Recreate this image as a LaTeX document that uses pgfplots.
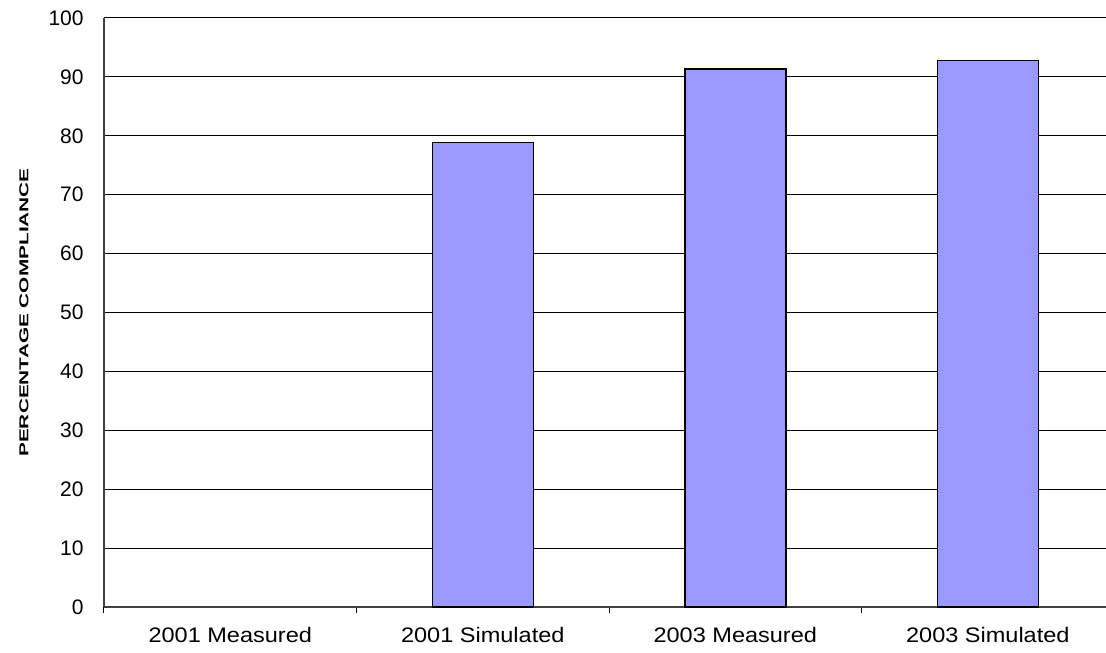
\documentclass[border=0pt]{standalone}
\usepackage{graphicx}
\usepackage{fontspec}
\setmainfont{Liberation Sans}
\usepackage{pgfplots}
\pgfplotsset{compat=1.18}
\definecolor{barblue}{HTML}{9999FF}
\begin{document}
\fontsize{10.5pt}{12.6pt}\selectfont
\begin{tikzpicture}
\begin{axis}[
  at={(0,0)}, anchor=south west,
  scale only axis,
  width=501pt, height=294.5pt,
  xmin=-0.5, xmax=3.468,
  ymin=0, ymax=100,
  ytick={0,10,...,100},
  xtick={0,1,2,3},
  xticklabels={2001 Measured,2001 Simulated,2003 Measured,2003 Simulated},
  minor xtick={-0.5,0.5,1.5,2.5},
  tick align=outside,
  major tick length=0pt,
  minor tick length=3pt,
  minor tick style={black, line width=0.5pt},
  axis x line*=bottom,
  axis y line*=left,
  axis line style={black!75, line width=0.8pt, -},
  ymajorgrids,
  major grid style={black, line width=0.5pt},
  /pgf/number format/assume math mode=true,
  yticklabel style={xshift=-6.5pt},
  xticklabel style={yshift=-6.5pt, xscale=1.12},
  ticklabel style={font=\fontsize{10.5pt}{12.6pt}\selectfont},
  ylabel={\scalebox{1}[0.62]{\bfseries\fontsize{10.4pt}{12pt}\selectfont PERCENTAGE COMPLIANCE}},
  ylabel style={at={(axis description cs:0,0.5)}, anchor=center, yshift=40pt},
  ybar, bar width=0.4,
  clip=false,
]
\addplot[fill=barblue, draw=black, line width=0.75pt] coordinates {(1,78.9) (2,91.3) (3,92.8)};
\end{axis}
\pgfresetboundingbox
\path (-52pt,-22.5pt) rectangle (501pt,303.5pt);
\end{tikzpicture}
\end{document}
